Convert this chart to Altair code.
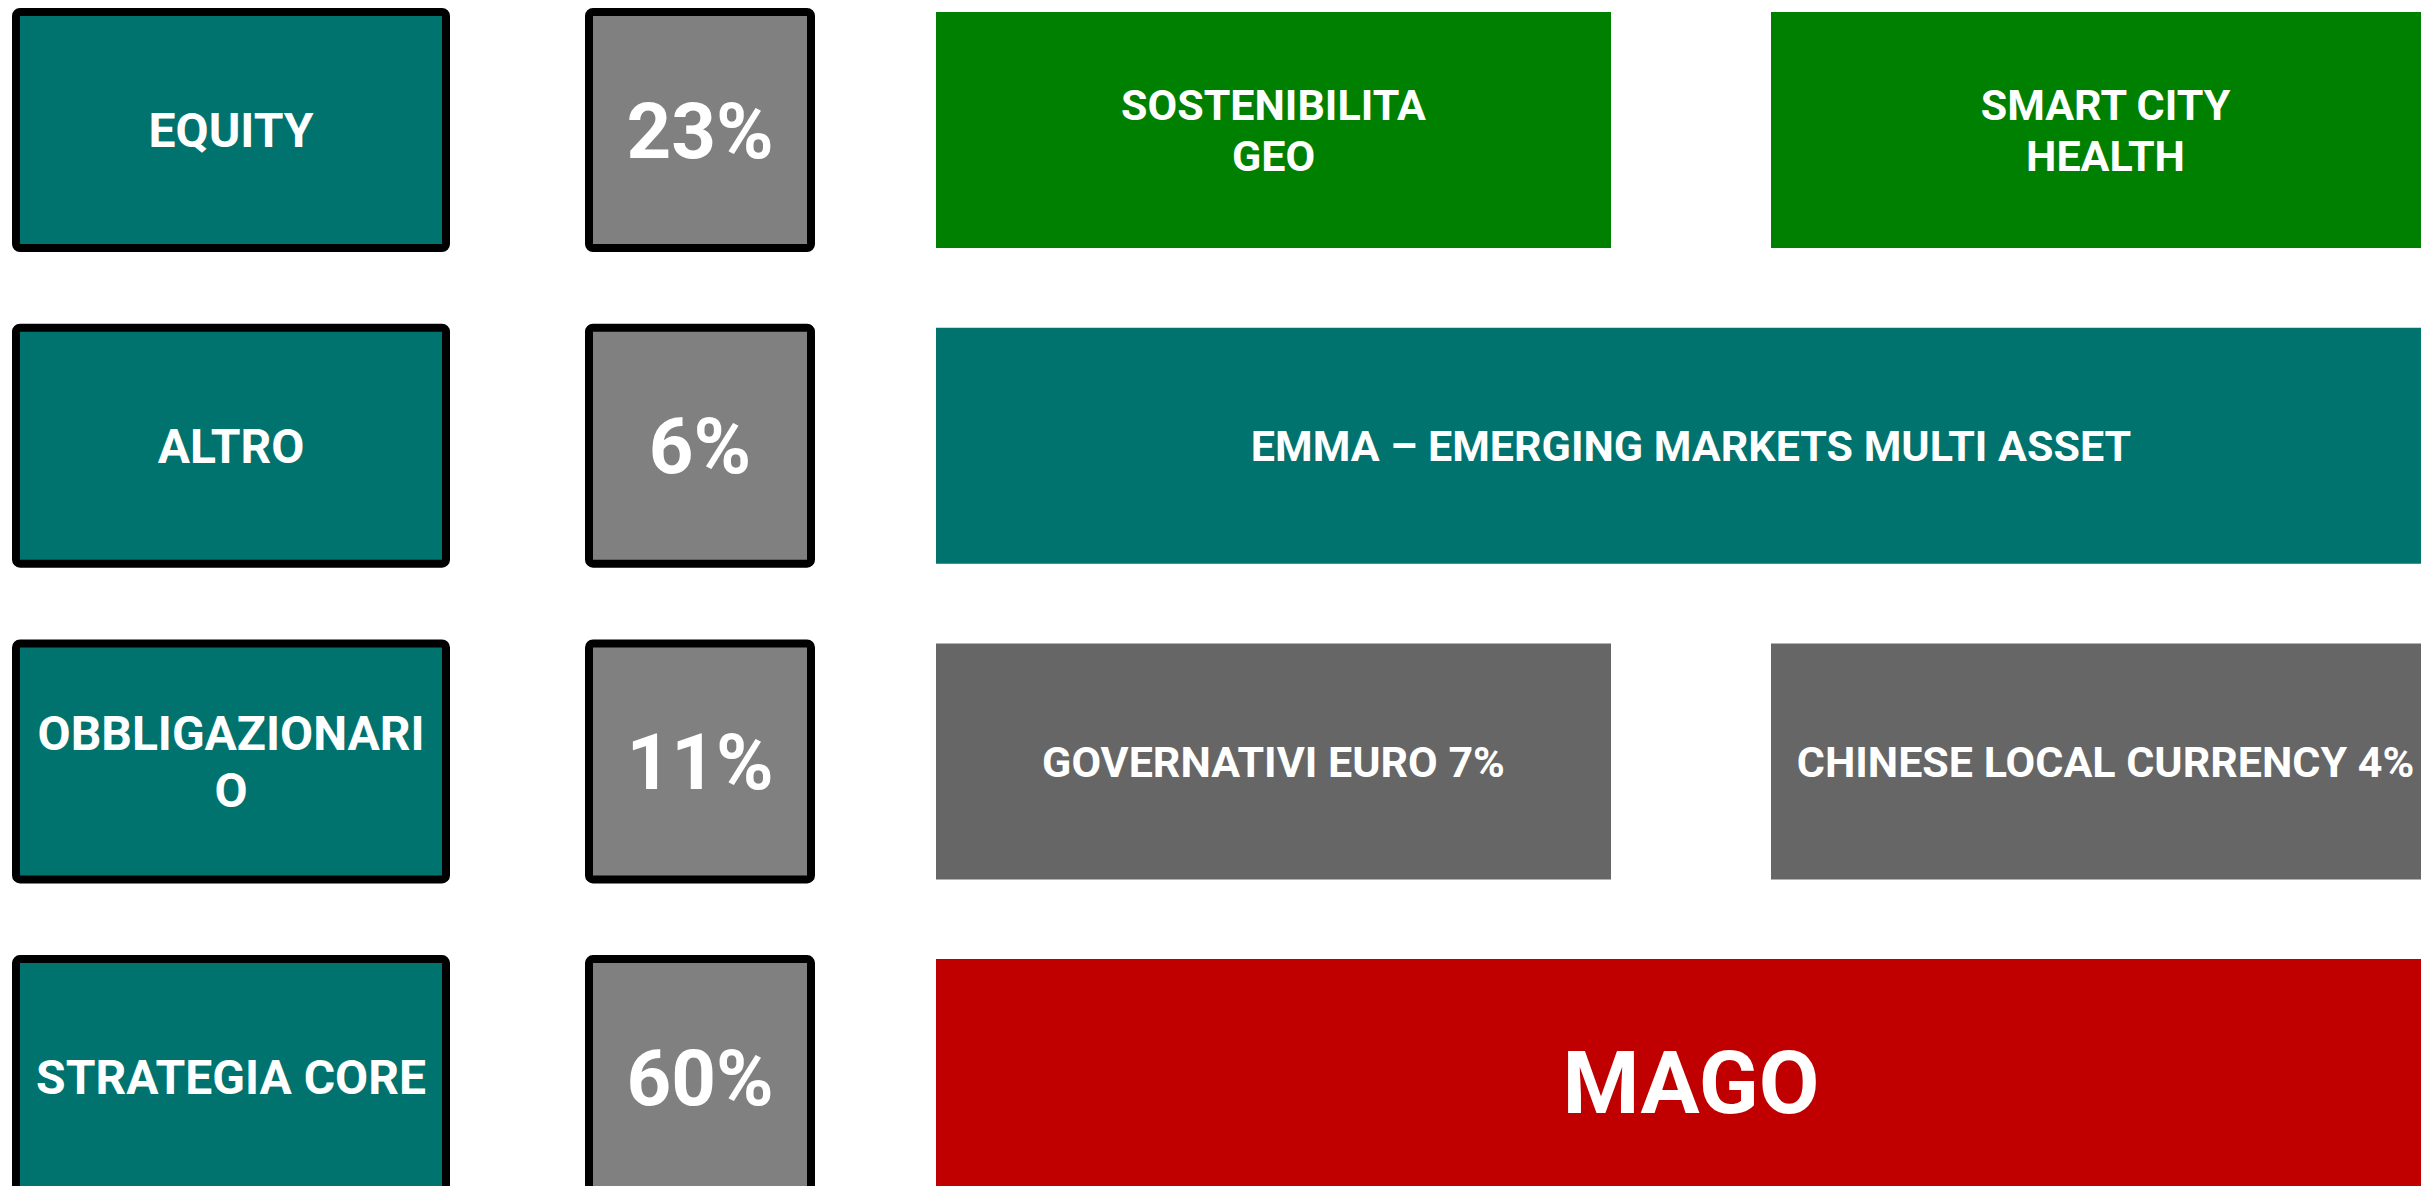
import altair as alt
import pandas as pd

# ---- data ----
categories = ["EQUITY", "ALTRO", "OBBLIGAZIONARI\nO", "STRATEGIA CORE"]
weights = ["23%", "6%", "11%", "60%"]
strategies = [
    ["SOSTENIBILITA\nGEO", "SMART CITY\nHEALTH"],
    ["EMMA – EMERGING MARKETS MULTI ASSET"],
    ["GOVERNATIVI EURO 7%", "CHINESE LOCAL CURRENCY 4%"],
    ["MAGO"],
]
strategy_colors = ["#008000", "#00736F", "#666666", "#C00000"]

# ---- layout (page pixel units) ----
W, H = 2413, 1178
FONT = "Roboto"
CAP = 0.355  # half cap-height ratio
COL1 = (16, 446)
COL2 = (589, 811)
COL3_FULL = (936, 2446)
COL3_SPLIT = [(936, 1611), (1771, 2440)]

rows = list(range(len(categories)))

cat_df = pd.DataFrame({
    "row": rows,
    "label": categories,
    "lines": [c.count("\n") + 1 for c in categories],
    "x": COL1[0], "x2": COL1[1], "xc": (COL1[0] + COL1[1]) / 2,
})
w_df = pd.DataFrame({
    "row": rows,
    "weight": weights,
    "x": COL2[0], "x2": COL2[1], "xc": (COL2[0] + COL2[1]) / 2,
})
recs = []
for r, names in enumerate(strategies):
    spans = COL3_SPLIT if len(names) == 2 else [COL3_FULL]
    for name, (a, b) in zip(names, spans):
        recs.append({"row": r, "name": name, "color": strategy_colors[r],
                     "lines": name.count("\n") + 1, "big": name == "MAGO",
                     "x": a, "x2": b, "xc": (a + b) / 2})
s_df = pd.DataFrame(recs)

xs = alt.Scale(domain=[8, 8 + W], range=[0, W], nice=False, zero=False)
ys = alt.Scale(domain=rows, range=[4, 1187.1], paddingInner=0.2524, paddingOuter=0)

X = lambda f: alt.X(f, type="quantitative", scale=xs, axis=None)
Y = alt.Y("row:O", scale=ys, axis=None)


def txt(fs, lines=1, lh=0, extra=0):
    return dict(color="white", font=FONT, fontWeight="bold", fontSize=fs,
                lineBreak="\n", lineHeight=lh if lh else fs * 1.2,
                align="center", baseline="alphabetic",
                dy=CAP * fs - (lines - 1) * (lh if lh else 0) / 2 + extra,
                clip=True)


cat_rect = alt.Chart(cat_df).mark_rect(
    fill="#00736F", stroke="black", strokeWidth=8, cornerRadius=4, clip=True
).encode(x=X("x"), x2="x2", y=Y)
cat_text1 = alt.Chart(cat_df).transform_filter("datum.lines == 1").mark_text(
    **txt(48)).encode(x=X("xc"), y=Y, text="label:N")
cat_text2 = alt.Chart(cat_df).transform_filter("datum.lines == 2").mark_text(
    **txt(48, 2, 57)).encode(x=X("xc"), y=Y, text="label:N")

w_rect = alt.Chart(w_df).mark_rect(
    fill="#808080", stroke="black", strokeWidth=8, cornerRadius=4, clip=True
).encode(x=X("x"), x2="x2", y=Y)
w_text = alt.Chart(w_df).mark_text(**txt(78)).encode(
    x=X("xc"), y=Y, text="weight:N")

s_rect = alt.Chart(s_df).mark_rect(clip=True).encode(
    x=X("x"), x2="x2", y=Y, fill=alt.Fill("color:N", scale=None)
)
s_text1 = alt.Chart(s_df).transform_filter(
    "datum.lines == 1 && !datum.big").mark_text(**txt(43)).encode(
    x=X("xc"), y=Y, text="name:N")
s_text2 = alt.Chart(s_df).transform_filter("datum.lines == 2").mark_text(
    **txt(43, 2, 51)).encode(x=X("xc"), y=Y, text="name:N")
s_text_big = alt.Chart(s_df).transform_filter("datum.big").mark_text(
    **txt(88, extra=5)).encode(x=X("xc"), y=Y, text="name:N")

chart = alt.layer(
    cat_rect, cat_text1, cat_text2, w_rect, w_text,
    s_rect, s_text1, s_text2, s_text_big
).properties(
    width=W, height=H, padding=0, autosize=alt.AutoSizeParams(type="none"),
    background="white",
).configure_view(stroke=None)

chart.save("out.html", embed_options={"renderer": "svg", "actions": False})
